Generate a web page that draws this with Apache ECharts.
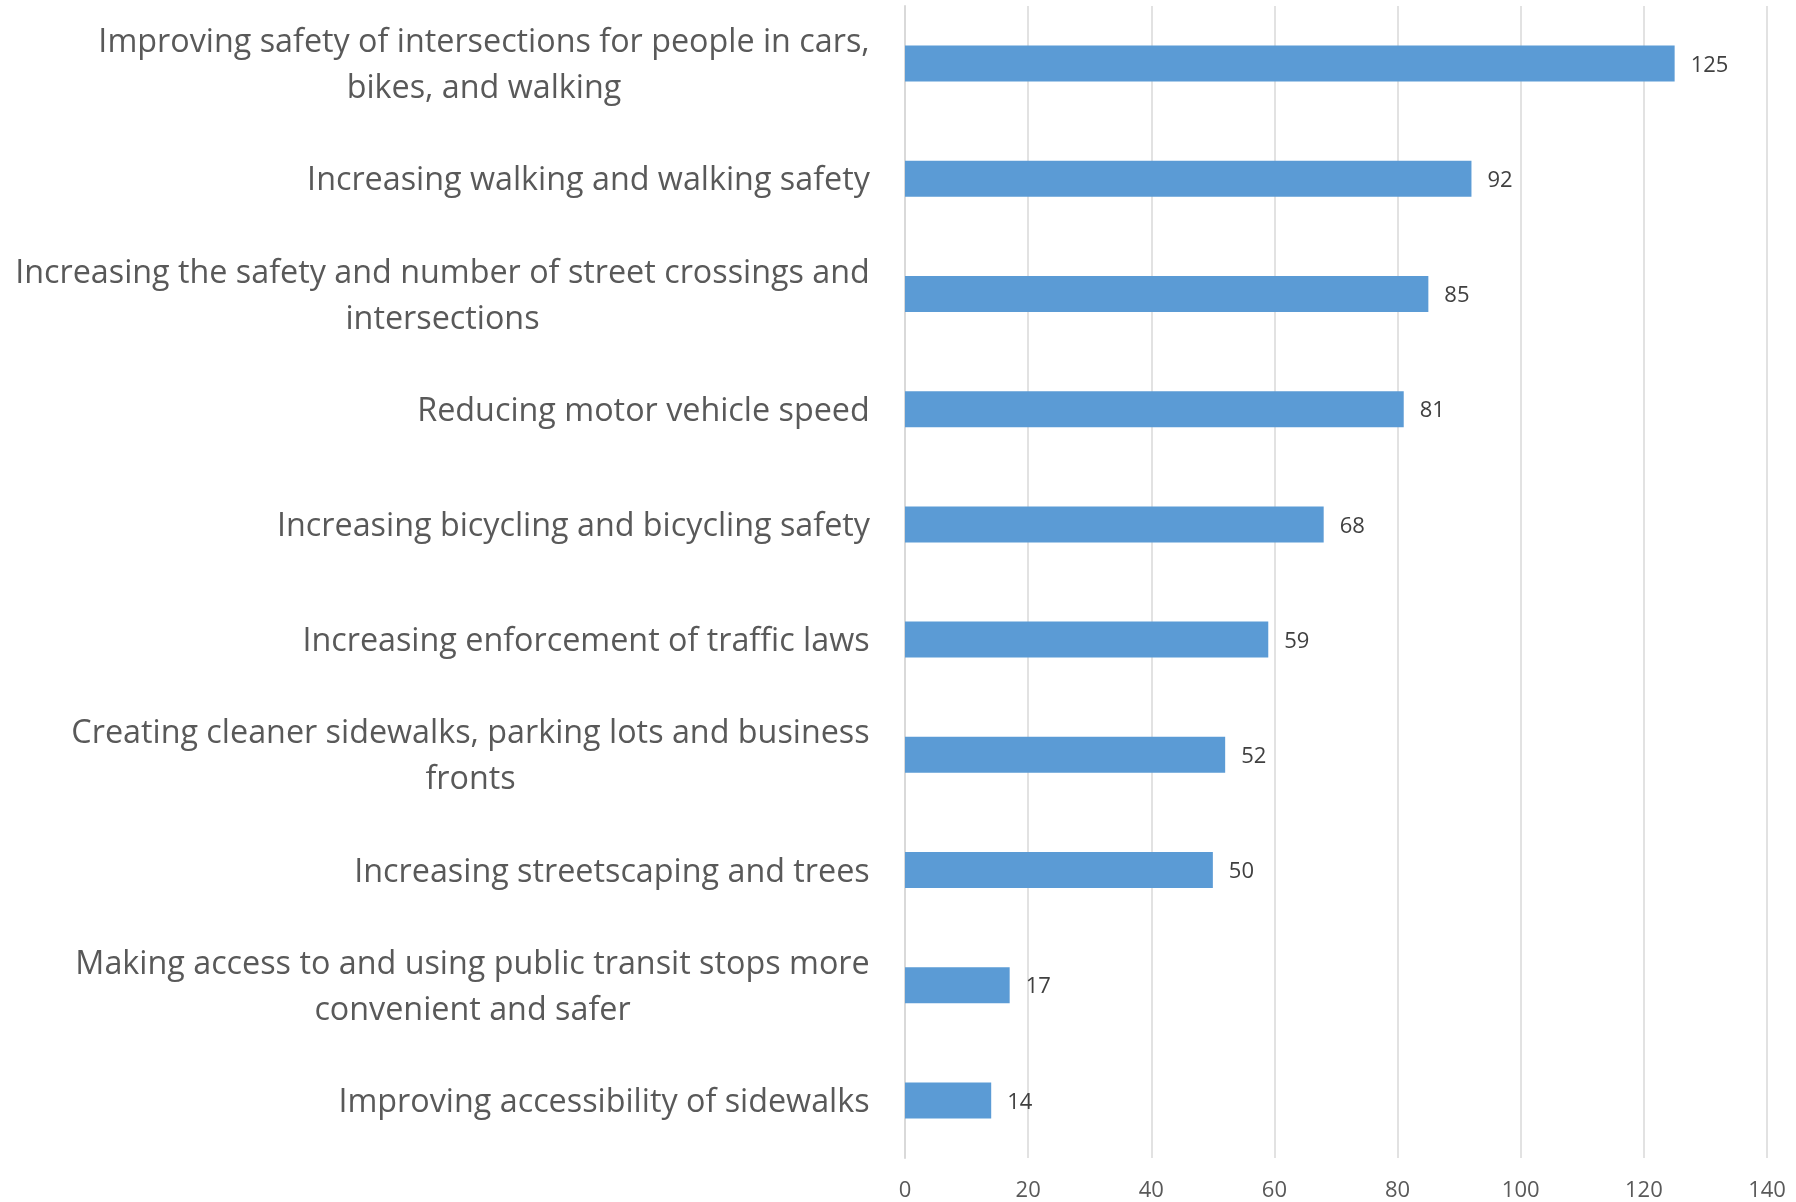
<!DOCTYPE html>
<html>
<head>
<meta charset="utf-8">
<script src="https://cdn.jsdelivr.net/npm/echarts@6/dist/echarts.min.js"></script>
<style>
  html, body { margin: 0; padding: 0; background: #ffffff; }
  #chart { width: 1796px; height: 1202px; }
</style>
</head>
<body>
<div id="chart"></div>
<script>
// Survey priorities, listed top to bottom
const categories = [
  'Improving safety of intersections for people in cars,\nbikes, and walking',
  'Increasing walking and walking safety',
  'Increasing the safety and number of street crossings and\nintersections',
  'Reducing motor vehicle speed',
  'Increasing bicycling and bicycling safety',
  'Increasing enforcement of traffic laws',
  'Creating cleaner sidewalks, parking lots and business\nfronts',
  'Increasing streetscaping and trees',
  'Making access to and using public transit stops more\nconvenient and safer',
  'Improving accessibility of sidewalks'
];
const responses = [125, 92, 85, 81, 68, 59, 52, 50, 17, 14];
const xTicks = [0, 20, 40, 60, 80, 100, 120, 140];

const FONT = '"Open Sans", "Noto Sans", sans-serif';
const LABEL_SIZE = 32.3;

// Measure each category label so its lines can be centred inside a right-aligned block
const ctx = document.createElement('canvas').getContext('2d');
ctx.font = LABEL_SIZE + 'px ' + FONT;
const rich = {};
categories.forEach((c, i) => {
  const w = Math.max(...c.split('\n').map(s => ctx.measureText(s).width));
  rich['c' + i] = {
    width: Math.ceil(w) + 2,
    align: 'center',
    fontSize: LABEL_SIZE,
    lineHeight: 46,
    color: '#595959',
    fontFamily: FONT
  };
});

const chart = echarts.init(document.getElementById('chart'), null, { renderer: 'canvas' });
chart.setOption({
  backgroundColor: '#ffffff',
  animation: false,
  grid: { left: 905, right: 29, top: 6, bottom: 44, containLabel: false },
  xAxis: {
    type: 'value',
    min: xTicks[0],
    max: xTicks[xTicks.length - 1],
    interval: 20,
    axisLine: { show: false },
    axisTick: { show: false },
    splitLine: { show: true, lineStyle: { color: '#d9d9d9', width: 1.5 } },
    axisLabel: { color: '#595959', fontSize: 22, fontFamily: FONT, margin: 22 }
  },
  yAxis: {
    type: 'category',
    inverse: true,
    data: categories,
    axisLine: { show: true, lineStyle: { color: '#d9d9d9', width: 2 } },
    axisTick: { show: false },
    axisLabel: {
      margin: 34,
      padding: [5, 0, 0, 0],
      formatter: (v, idx) => v.split('\n').map(s => '{c' + idx + '|' + s + '}').join('\n'),
      rich: rich
    }
  },
  series: [{
    type: 'bar',
    data: responses,
    barWidth: 36,
    itemStyle: { color: '#5b9bd5' },
    label: {
      show: true,
      position: 'right',
      distance: 16,
      offset: [0, 2],
      color: '#404040',
      fontSize: 22,
      fontFamily: FONT
    }
  }]
});
</script>
</body>
</html>
